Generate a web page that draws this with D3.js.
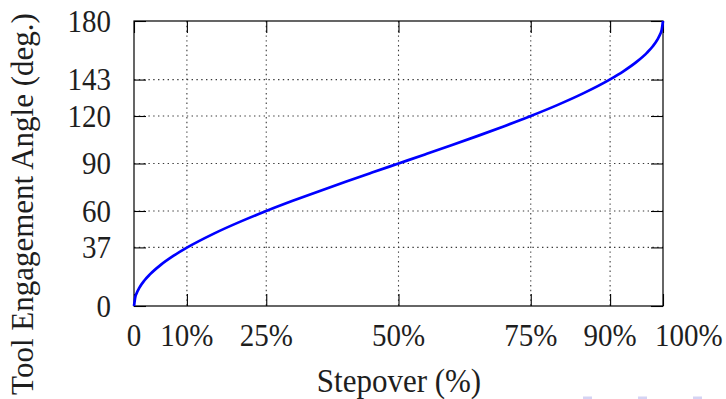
<!DOCTYPE html>
<html><head><meta charset="utf-8">
<script src="https://cdn.jsdelivr.net/npm/d3@7"></script>
<style>html,body{margin:0;padding:0;background:#fff;}svg{display:block;}
svg text{font-family:"Liberation Serif","DejaVu Serif","Noto Serif",serif;fill:#1e1e1e;}</style>
</head><body>
<svg id="c" width="726" height="399"></svg>
<script>
const stepover = [0, 0.25, 0.5, 1, 2, 3, 5, 7.5, 10, 15, 20, 25, 30, 35, 40, 45, 50, 55, 60, 65, 70, 75, 80, 85, 90, 92.5, 95, 97, 98, 99, 99.5, 99.75, 100];
const angle = [0, 5.73, 8.11, 11.48, 16.26, 19.95, 25.84, 31.79, 36.87, 45.57, 53.13, 60, 66.42, 72.54, 78.46, 84.26, 90, 95.74, 101.54, 107.46, 113.58, 120, 126.87, 134.43, 143.13, 148.21, 154.16, 160.05, 163.74, 168.52, 171.89, 174.27, 180];
const xTicks = [0, 10, 25, 50, 75, 90, 100];
const xTickLabels = ["0", "10%", "25%", "50%", "75%", "90%", "100%"];
const yTicks = [0, 37, 60, 90, 120, 143, 180];
const xTitle = "Stepover (%)";
const yTitle = "Tool Engagement Angle (deg.)";

const svg = d3.select("#c");
const L = 134, R = 663, T = 21, B = 306;
const x = d3.scaleLinear().domain([0, 100]).range([L, R]);
const y = d3.scaleLinear().domain([0, 180]).range([B, T]);

function addText(tx, ty, txt, size, anchor, sy, rot) {
  const gg = svg.append("g").attr("transform", `translate(${tx},${ty})` + (rot ? ` rotate(${rot})` : "") + ` scale(1,${sy})`);
  gg.append("text").attr("text-anchor", anchor).style("font-size", size + "px").text(txt);
}

// faint marks at bottom right of the original image
[583, 638, 693].forEach(px => svg.append("rect").attr("x", px).attr("y", 396.5).attr("width", 9).attr("height", 3).attr("fill", "#d4d4f4"));

// grid
const g = svg.append("g");
g.selectAll(".gx").data(xTicks.filter(d => d > 0 && d < 100)).join("line")
  .attr("x1", d => x(d)).attr("x2", d => x(d)).attr("y1", T).attr("y2", B)
  .attr("stroke", "#3a3a3a").attr("stroke-width", 1.1).attr("stroke-dasharray", "1.4,3.4");
g.selectAll(".gy").data(yTicks.filter(d => d > 0 && d < 180)).join("line")
  .attr("x1", L).attr("x2", R).attr("y1", d => y(d)).attr("y2", d => y(d))
  .attr("stroke", "#3a3a3a").attr("stroke-width", 1.1).attr("stroke-dasharray", "1.4,3.4");

// axes with inward ticks on all sides
const tl = 12;
const axB = d3.axisBottom(x).tickValues(xTicks).tickSize(-tl).tickFormat("");
const axT = d3.axisTop(x).tickValues(xTicks).tickSize(-tl).tickFormat("");
const axL = d3.axisLeft(y).tickValues(yTicks).tickSize(-tl).tickFormat("");
const axR = d3.axisRight(y).tickValues(yTicks).tickSize(-tl).tickFormat("");
[[axB, `translate(0,${B})`], [axT, `translate(0,${T})`], [axL, `translate(${L},0)`], [axR, `translate(${R},0)`]].forEach(([a, tr]) => {
  const e = svg.append("g").attr("transform", tr).call(a);
  e.select(".domain").remove();
  e.selectAll("line").attr("stroke", "#000").attr("stroke-width", 1.1);
});
svg.append("rect").attr("x", L).attr("y", T).attr("width", R - L).attr("height", B - T)
  .attr("fill", "none").attr("stroke", "#000").attr("stroke-width", 1.2);

// tick labels
xTicks.forEach((d, i) => {
  const last = i === xTicks.length - 1;
  addText(last ? x(d) - 8 : x(d), 346, xTickLabels[i], 29, last ? "start" : "middle", 1.1);
});
yTicks.forEach(d => addText(111, y(d) + 10.8, d, 29, "end", 1.1));

// titles
addText(399, 392, xTitle, 31, "middle", 1.08);
addText(33, 204, yTitle, 31, "middle", 1.0, -90);

// curve
const data = stepover.map((s, i) => [s, angle[i]]);
svg.append("path").datum(data)
  .attr("d", d3.line().x(d => x(d[0])).y(d => y(d[1])).curve(d3.curveMonotoneX))
  .attr("fill", "none").attr("stroke", "#0000ff").attr("stroke-width", 2.7);
</script>
</body></html>
